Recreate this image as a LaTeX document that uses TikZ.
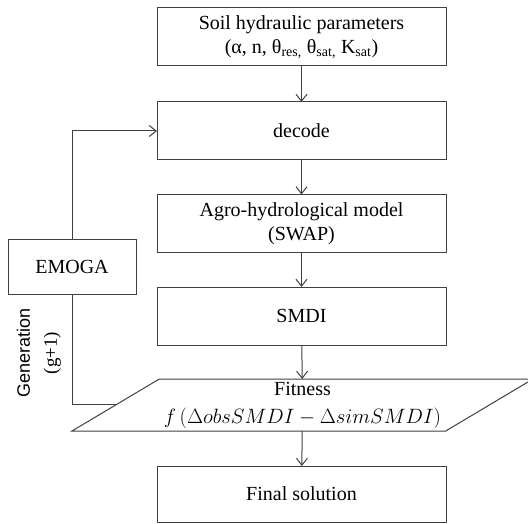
\documentclass[tikz,border=0pt]{standalone}
\usepackage{fontspec}
\setmainfont{Liberation Serif}
\setsansfont{Liberation Sans}
\usetikzlibrary{arrows.meta,shapes.geometric}

\begin{document}
\begin{tikzpicture}[x=1pt, y=-1pt, line width=1pt,
	every node/.style={font=\fontsize{20}{24}\selectfont, inner sep=2pt, outer sep=0pt},
	box/.style={draw=black!75, rectangle, minimum width=289pt, minimum height=58pt, align=center},
	flow/.style={draw=black!75, -{Straight Barb[length=7pt,width=11pt]}}]
	\useasboundingbox (0,0) rectangle (528,524);
	% main chain
	\node[box] (soil) at (301.5,37) {Soil hydraulic parameters\\(α, n, θ\textsubscript{res,} θ\textsubscript{sat,} K\textsubscript{sat})};
	\node[box] (decode) at (301.5,131) {decode};
	\node[box] (agro) at (301.5,223.5) {Agro-hydrological model\\(SWAP)};
	\node[box] (smdi) at (301.5,316) {SMDI};
	\node[draw=black!75, trapezium, trapezium left angle=30, trapezium right angle=150, trapezium stretches body,
		minimum width=461pt, minimum height=52pt, align=center] (fitness) at (302.5,405)
		{Fitness\\[4pt]{\fontsize{19.5}{22}\selectfont$f\,(\Delta obsSMDI-\Delta simSMDI)$}};
	\node[box, minimum height=56pt] (final) at (301.5,494) {Final solution};
	% loop
	\node[draw=black!75, minimum width=128pt, minimum height=54pt] (emoga) at (72,267) {EMOGA};
	\node[rotate=90, align=center, font=\fontsize{19}{27}\selectfont] (gen) at (39,353) {{\sffamily\fontsize{18}{27}\selectfont Generation}\\(g+1)};
	
	\draw[flow] (soil) -- (decode);
	\draw[flow] (decode) -- (agro);
	\draw[flow] (agro) -- (smdi);
	\draw[flow] (smdi) -- (fitness);
	\draw[flow] (fitness) -- (final);
	\draw[flow] (emoga.north) |- (decode.west);
	\draw[draw=black!75] (fitness.west) -| (emoga.south);
	
\end{tikzpicture}
\end{document}
